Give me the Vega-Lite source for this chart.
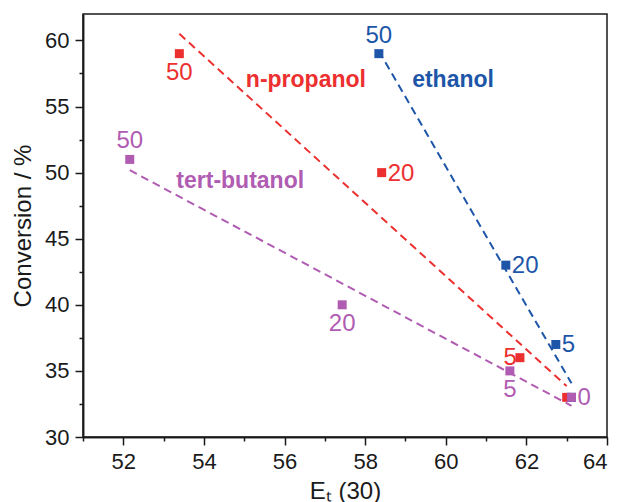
{
  "$schema": "https://vega.github.io/schema/vega-lite/v6.json",
  "width": 524,
  "height": 423,
  "autosize": "none",
  "padding": {"left": 83, "top": 14, "right": 16, "bottom": 65},
  "background": "white",
  "datasets": {
    "pts": [
      {"series": "n-propanol", "et": 53.39, "conv": 59.0, "label": "50"},
      {"series": "n-propanol", "et": 58.41, "conv": 50.0, "label": "20"},
      {"series": "n-propanol", "et": 61.84, "conv": 36.0, "label": "5"},
      {"series": "n-propanol", "et": 63.0, "conv": 33.0, "label": "0"},
      {"series": "ethanol", "et": 58.34, "conv": 59.0, "label": "50"},
      {"series": "ethanol", "et": 61.49, "conv": 43.0, "label": "20"},
      {"series": "ethanol", "et": 62.73, "conv": 37.0, "label": "5"},
      {"series": "ethanol", "et": 63.12, "conv": 33.0, "label": "0"},
      {"series": "tert-butanol", "et": 52.16, "conv": 51.0, "label": "50"},
      {"series": "tert-butanol", "et": 57.43, "conv": 40.0, "label": "20"},
      {"series": "tert-butanol", "et": 61.59, "conv": 35.0, "label": "5"},
      {"series": "tert-butanol", "et": 63.12, "conv": 33.0, "label": "0"}
    ],
    "names": [
      {"series": "n-propanol", "et": 56.53, "conv": 57.0},
      {"series": "ethanol", "et": 60.18, "conv": 57.0},
      {"series": "tert-butanol", "et": 54.9, "conv": 49.4}
    ]
  },
  "resolve": {"axis": {"x": "independent", "y": "independent"}},
  "layer": [
    {
      "data": {"name": "pts"},
      "transform": [{"regression": "conv", "on": "et", "groupby": ["series"]}],
      "mark": {"type": "line", "strokeDash": [8, 5], "strokeWidth": 2},
      "encoding": {
        "x": {"field": "et", "type": "quantitative", "scale": {"domain": [51, 64], "nice": false, "zero": false},
          "axis": {"orient": "bottom", "values": [51, 53, 55, 57, 59, 61, 63], "labels": false, "tickSize": 4, "grid": false, "title": null, "domainColor": "#1a1a1a", "domainWidth": 1.5, "tickColor": "#1a1a1a", "tickWidth": 1.5}},
        "y": {"field": "conv", "type": "quantitative", "scale": {"domain": [30, 62], "nice": false, "zero": false},
          "axis": {"orient": "left", "values": [32.5, 37.5, 42.5, 47.5, 52.5, 57.5], "labels": false, "tickSize": 4, "grid": false, "title": null, "domainColor": "#1a1a1a", "domainWidth": 1.5, "tickColor": "#1a1a1a", "tickWidth": 1.5}},
        "color": {"field": "series", "type": "nominal", "legend": null,
          "scale": {"domain": ["n-propanol", "ethanol", "tert-butanol"], "range": ["#EC2F2F", "#1D56A8", "#B05CB2"]}}
      }
    },
    {
      "data": {"name": "pts"},
      "mark": {"type": "square", "size": 81, "filled": true, "opacity": 1},
      "encoding": {
        "x": {"field": "et", "type": "quantitative",
          "axis": {"orient": "bottom", "values": [52, 54, 56, 58, 60, 62, 64], "tickSize": 8, "labelPadding": 6, "labelFontSize": 22, "labelFont": "Liberation Sans", "labelColor": "#1a1a1a", "grid": false,
            "title": "Eₜ (30)", "titleFont": "Liberation Sans", "titleFontSize": 24, "titleFontWeight": "normal", "titleColor": "#1a1a1a", "titlePadding": 7,
            "domainColor": "#1a1a1a", "domainWidth": 1.5, "tickColor": "#1a1a1a", "tickWidth": 1.5}},
        "y": {"field": "conv", "type": "quantitative",
          "axis": {"orient": "left", "values": [30, 35, 40, 45, 50, 55, 60], "tickSize": 8, "labelPadding": 6, "labelFontSize": 22, "labelFont": "Liberation Sans", "labelColor": "#1a1a1a", "grid": false,
            "title": "Conversion / %", "titleFont": "Liberation Sans", "titleFontSize": 24, "titleFontWeight": "normal", "titleColor": "#1a1a1a", "titlePadding": 9,
            "domainColor": "#1a1a1a", "domainWidth": 1.5, "tickColor": "#1a1a1a", "tickWidth": 1.5}},
        "color": {"field": "series", "type": "nominal", "legend": null}
      }
    },
    {
      "data": {"name": "pts"},
      "transform": [{"filter": "datum.label == '50' && datum.series != 'n-propanol'"}],
      "mark": {"type": "text", "font": "Liberation Sans", "fontSize": 24, "align": "center", "baseline": "middle", "dy": -18},
      "encoding": {
        "x": {"field": "et", "type": "quantitative", "axis": null},
        "y": {"field": "conv", "type": "quantitative", "axis": null},
        "text": {"field": "label"},
        "color": {"field": "series", "type": "nominal", "legend": null}
      }
    },
    {
      "data": {"name": "pts"},
      "transform": [{"filter": "(datum.series == 'n-propanol' && datum.label == '50') || (datum.series == 'tert-butanol' && (datum.label == '20' || datum.label == '5'))"}],
      "mark": {"type": "text", "font": "Liberation Sans", "fontSize": 24, "align": "center", "baseline": "middle", "dy": 19},
      "encoding": {
        "x": {"field": "et", "type": "quantitative", "axis": null},
        "y": {"field": "conv", "type": "quantitative", "axis": null},
        "text": {"field": "label"},
        "color": {"field": "series", "type": "nominal", "legend": null}
      }
    },
    {
      "data": {"name": "pts"},
      "transform": [{"filter": "(datum.series == 'n-propanol' && datum.label == '20') || (datum.series == 'ethanol' && (datum.label == '20' || datum.label == '5')) || (datum.series == 'tert-butanol' && datum.label == '0')"}],
      "mark": {"type": "text", "font": "Liberation Sans", "fontSize": 24, "align": "left", "baseline": "middle", "dx": 6, "dy": 1},
      "encoding": {
        "x": {"field": "et", "type": "quantitative", "axis": null},
        "y": {"field": "conv", "type": "quantitative", "axis": null},
        "text": {"field": "label"},
        "color": {"field": "series", "type": "nominal", "legend": null}
      }
    },
    {
      "data": {"name": "pts"},
      "transform": [{"filter": "datum.series == 'n-propanol' && datum.label == '5'"}],
      "mark": {"type": "text", "font": "Liberation Sans", "fontSize": 24, "align": "right", "baseline": "middle", "dx": -3, "dy": 0},
      "encoding": {
        "x": {"field": "et", "type": "quantitative", "axis": null},
        "y": {"field": "conv", "type": "quantitative", "axis": null},
        "text": {"field": "label"},
        "color": {"field": "series", "type": "nominal", "legend": null}
      }
    },
    {
      "data": {"name": "names"},
      "mark": {"type": "text", "font": "Liberation Sans", "fontSize": 23, "fontWeight": "bold", "align": "center", "baseline": "middle"},
      "encoding": {
        "x": {"field": "et", "type": "quantitative", "axis": null},
        "y": {"field": "conv", "type": "quantitative", "axis": null},
        "text": {"field": "series"},
        "color": {"field": "series", "type": "nominal", "legend": null}
      }
    }
  ],
  "config": {
    "view": {"stroke": "#1a1a1a", "strokeWidth": 1.5}
  }
}
